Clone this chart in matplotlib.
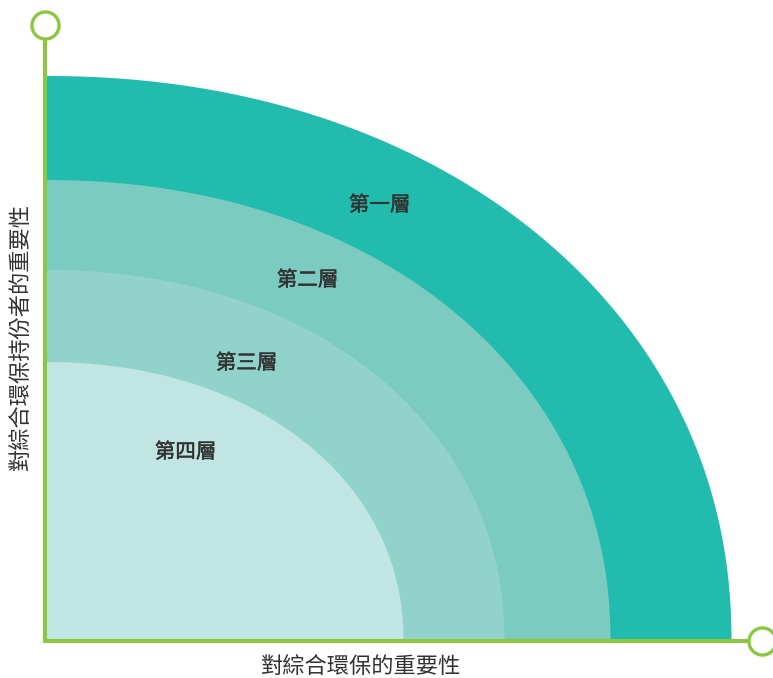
import numpy as np
import matplotlib
matplotlib.use("Agg")
import matplotlib.pyplot as plt
from matplotlib.patches import Polygon
import matplotlib.patheffects as pe

plt.rcParams['font.family'] = ['Noto Sans CJK TC', 'DejaVu Sans']

# ---- data ----
layer_names = ['第一層', '第二層', '第三層', '第四層']
layer_reach_x = [687, 566, 460, 359]   # extent along "importance of environmental protection"
layer_reach_y = [565, 461, 371, 279]   # extent along "importance to stakeholders"
layer_colors = ['#21BCAD', '#7BCBC1', '#91D3CA', '#C1E5E2']
label_x = [335, 263, 202, 141]
label_y = [436, 361, 278, 189]
x_title = '對綜合環保的重要性'
y_title = '對綜合環保持份者的重要性'

green = '#8DC63F'
text_color = '#333333'

W, H, DPI = 773, 678, 100
fig = plt.figure(figsize=(W / DPI, H / DPI), dpi=DPI)
ax = fig.add_axes([0, 0, 1, 1])
ax.set_xlim(-44.5, W - 44.5)
ax.set_ylim(-37, H - 37)
ax.axis('off')

n = 2.1
t = np.linspace(0, np.pi / 2, 300)
for a, b, c in zip(layer_reach_x, layer_reach_y, layer_colors):
    xs = a * np.cos(t) ** (2 / n)
    ys = b * np.sin(t) ** (2 / n)
    pts = np.column_stack([np.r_[0, xs], np.r_[0, ys]])
    ax.add_patch(Polygon(pts, closed=True, facecolor=c, edgecolor='none', zorder=1))

medium = [pe.withStroke(linewidth=0.35, foreground=text_color)]
for name, lx, ly in zip(layer_names, label_x, label_y):
    ax.text(lx, ly, name, ha='center', va='center', fontsize=14.8,
            color=text_color, zorder=3, path_effects=medium)

# axes arrows with circle ends
x_end = 717.5
y_end = 616
lw = 4 * 72 / DPI
ax.plot([0, 0], [-2, y_end], color=green, lw=lw, solid_capstyle='butt', zorder=4)
ax.plot([-2, x_end], [0, 0], color=green, lw=lw, solid_capstyle='butt', zorder=4)
ax.plot([0], [y_end], marker='o', markersize=19.5, markerfacecolor='white',
        markeredgecolor=green, markeredgewidth=2.4, zorder=5)
ax.plot([x_end], [0], marker='o', markersize=19.5, markerfacecolor='white',
        markeredgecolor=green, markeredgewidth=2.4, zorder=5)

ax.text(317, -25, x_title, ha='center', va='center', fontsize=16, color=text_color)
ax.text(-24.5, 304, y_title, ha='center', va='center', fontsize=16,
        color=text_color, rotation=90)

fig.savefig('out.png', dpi=DPI, facecolor='white')
